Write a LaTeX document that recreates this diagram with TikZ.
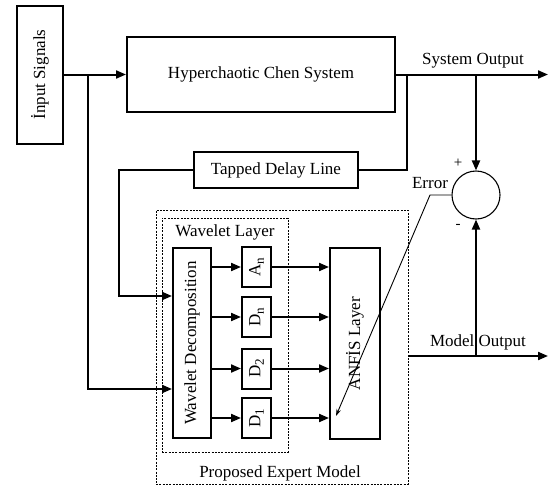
\documentclass[tikz,border=0pt]{standalone}
\usepackage{fontspec}
\setmainfont{Liberation Serif}
\usepackage{graphicx}
\usetikzlibrary{arrows.meta}
\newcommand{\diafont}{\fontsize{17}{20}\selectfont}
\newcommand{\subsc}[1]{\raisebox{-3.5pt}{\fontsize{13}{14}\selectfont #1}}
\begin{document}
\begin{tikzpicture}[x=1pt,y=-1pt,
  ln/.style={line width=2pt},
  arr/.style={line width=2pt,-{Triangle[length=10pt,width=8pt]}},
  box/.style={draw,line width=2pt,inner sep=0pt,font=\diafont},
  dbox/.style={draw,line width=0.9pt,dash pattern=on 2pt off 1.3pt,inner sep=0pt},
  txt/.style={inner sep=0pt,font=\diafont},
  thinarr/.style={line width=0.9pt,-{Stealth[length=7pt,width=4.5pt]}}]
\useasboundingbox (0,0) rectangle (549,485);
\fill[white] (0,0) rectangle (549,485);
% boxes
\node[box,minimum width=46pt,minimum height=138pt] (inp) at (40,74.5) {\rotatebox{90}{İnput Signals}};
\node[box,minimum width=268pt,minimum height=75pt] (hyp) at (261,74.5) {Hyperchaotic Chen System};
\node[box,minimum width=164pt,minimum height=36pt] (tdl) at (276,170) {Tapped Delay Line};
\node[dbox,minimum width=252pt,minimum height=274pt] (pem) at (282,347) {};
\node[dbox,minimum width=126pt,minimum height=234pt] (wl) at (225,335) {};
\node[txt] (wltxt) at (225,232) {Wavelet Layer};
\node[txt] (pemtxt) at (280,473) {Proposed Expert Model};
\node[box,minimum width=38pt,minimum height=190pt] (wd) at (192,343) {\rotatebox{90}{Wavelet Decomposition}};
\node[box,minimum width=29pt,minimum height=40pt] (an) at (256.5,267) {\rotatebox{90}{A\subsc{n}}};
\node[box,minimum width=29pt,minimum height=40pt] (dn) at (256.5,317) {\rotatebox{90}{D\subsc{n}}};
\node[box,minimum width=29pt,minimum height=40pt] (d2) at (256.5,368.5) {\rotatebox{90}{D\subsc{2}}};
\node[box,minimum width=29pt,minimum height=40pt] (d1) at (256.5,418) {\rotatebox{90}{D\subsc{1}}};
\node[box,minimum width=50pt,minimum height=191pt] (anfis) at (355,343.5) {\rotatebox{90}{ANFİS Layer}};
\node[draw,circle,line width=1.1pt,minimum size=48pt,inner sep=0pt] (sum) at (476,195) {};
% labels
\node[txt] (solbl) at (473,61) {System Output};
\node[txt] (errlbl) at (430,183) {Error};
\node[txt,font=\fontsize{15}{16}\selectfont] (plus) at (458,163) {+};
\node[txt,font=\fontsize{15}{16}\selectfont] (minus) at (458,226) {-};
\node[txt] (molbl) at (478,342) {Model Output};
% coordinates
\coordinate (b1) at (88,74.5);
\coordinate (b2) at (407,74.5);
\coordinate (b3) at (476,74.5);
\coordinate (so) at (548,74.5);
\coordinate (t1) at (119,170);
\coordinate (mo0) at (408,356);
\coordinate (mo1) at (476,356);
\coordinate (mo) at (548,356);
\coordinate (e1) at (430,195);
\coordinate (e2) at (336,416);
% connectors
\draw[arr] (inp.east) -- (hyp.west);
\draw[arr] (b1) |- (wd.west |- 0,389);
\draw[arr] (hyp.east) -- (so);
\draw[ln] (b2) |- (tdl.east);
\draw[arr] (tdl.west) -- (t1) |- (wd.west |- 0,296);
\draw[arr] (b3) -- (sum.north);
\draw[arr] (mo0) -- (mo);
\draw[arr] (mo1) -- (sum.south);
\draw[thinarr] (sum.west) -- (e1) -- (e2);
\foreach \n in {an,dn,d2,d1}{
  \draw[arr] (wd.east |- \n) -- (\n.west);
  \draw[arr] (\n.east) -- (anfis.west |- \n);
}
\end{tikzpicture}
\end{document}
